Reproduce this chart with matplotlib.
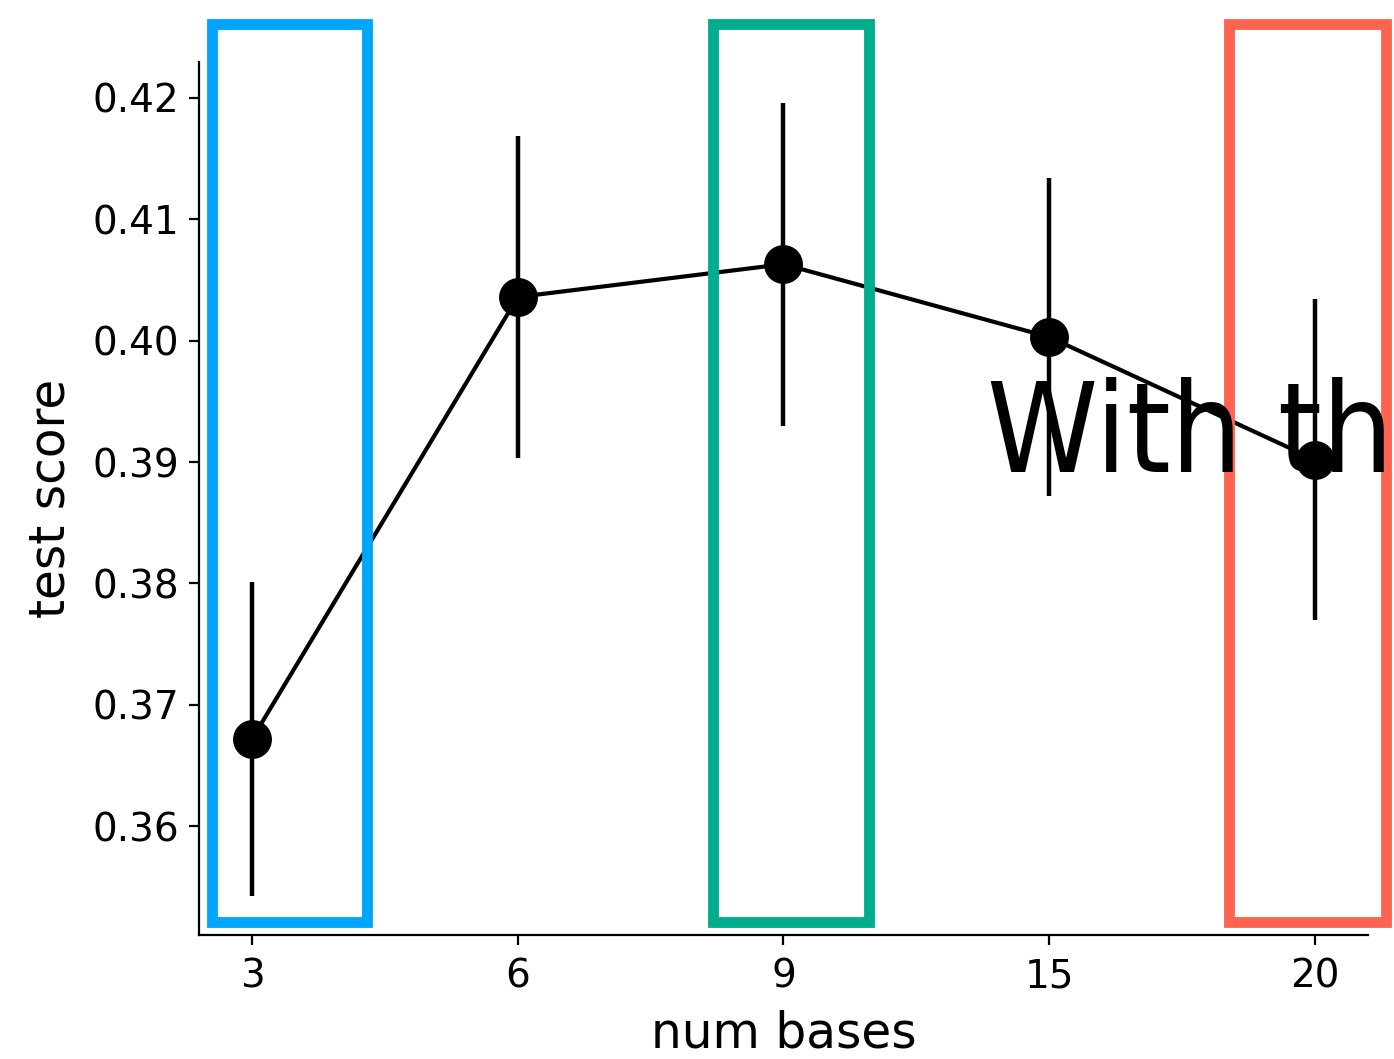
import matplotlib
matplotlib.use("Agg")
import matplotlib.pyplot as plt
from matplotlib.patches import Rectangle
from matplotlib import font_manager
import numpy as np

categories = ["3", "6", "9", "15", "20"]
scores = [0.3672, 0.4036, 0.4063, 0.4003, 0.3902]
err_low = [0.3542, 0.3903, 0.3930, 0.3872, 0.3770]
err_high = [0.3801, 0.4169, 0.4196, 0.4134, 0.4034]
yticks = [0.36, 0.37, 0.38, 0.39, 0.40, 0.41, 0.42]

# highlight boxes: (x0, x1) in category units, y range in data units
box_specs = [(-0.15, 0.433, "#00A5FF"), (1.735, 2.322, "#00AE8E"), (3.676, 4.267, "#FF6450")]
box_y = (0.3521, 0.4261)

fig = plt.figure(figsize=(6.97, 5.295), dpi=200)
ax = fig.add_axes([0.1428, 0.1171, 0.8385, 0.8244])

x = np.arange(len(categories))
yerr = np.array([[s - l for s, l in zip(scores, err_low)],
                 [h - s for s, h in zip(scores, err_high)]])
ax.errorbar(x, scores, yerr=yerr, color="black", marker="o", markersize=13,
            linewidth=1.5, elinewidth=1.6, capsize=0, zorder=3)

ax.set_xticks(x)
ax.set_xticklabels(categories)
ax.set_yticks(yticks)
ax.set_yticklabels([f"{v:.2f}" for v in yticks])
ax.tick_params(labelsize=14)
ax.tick_params(axis="x", pad=4.5)
ax.set_xlim(-0.2, 4.2)
ax.set_ylim(0.35102, 0.42297)
ax.set_xlabel("num bases", fontsize=17.5, labelpad=5)
ax.set_ylabel("test score", fontsize=17.5, labelpad=6.5)
ax.spines["top"].set_visible(False)
ax.spines["right"].set_visible(False)

for x0, x1, c in box_specs:
    r = Rectangle((x0, box_y[0]), x1 - x0, box_y[1] - box_y[0], fill=False,
                  edgecolor=c, linewidth=3.9, clip_on=False, zorder=4)
    ax.add_patch(r)

cond = [f for f in font_manager.fontManager.ttflist if "Condensed" in f.fname and "DejaVuSans" in f.fname and "Bold" not in f.fname and "Oblique" not in f.fname]
if cond:
    fp = font_manager.FontProperties(fname=cond[0].fname, size=45)
else:
    fp = font_manager.FontProperties(family="DejaVu Sans", stretch="condensed", size=45)
fig.text(0.708, 0.5546, "With th", fontproperties=fp, ha="left", va="baseline", color="black")

fig.savefig("out.png", dpi=200)
